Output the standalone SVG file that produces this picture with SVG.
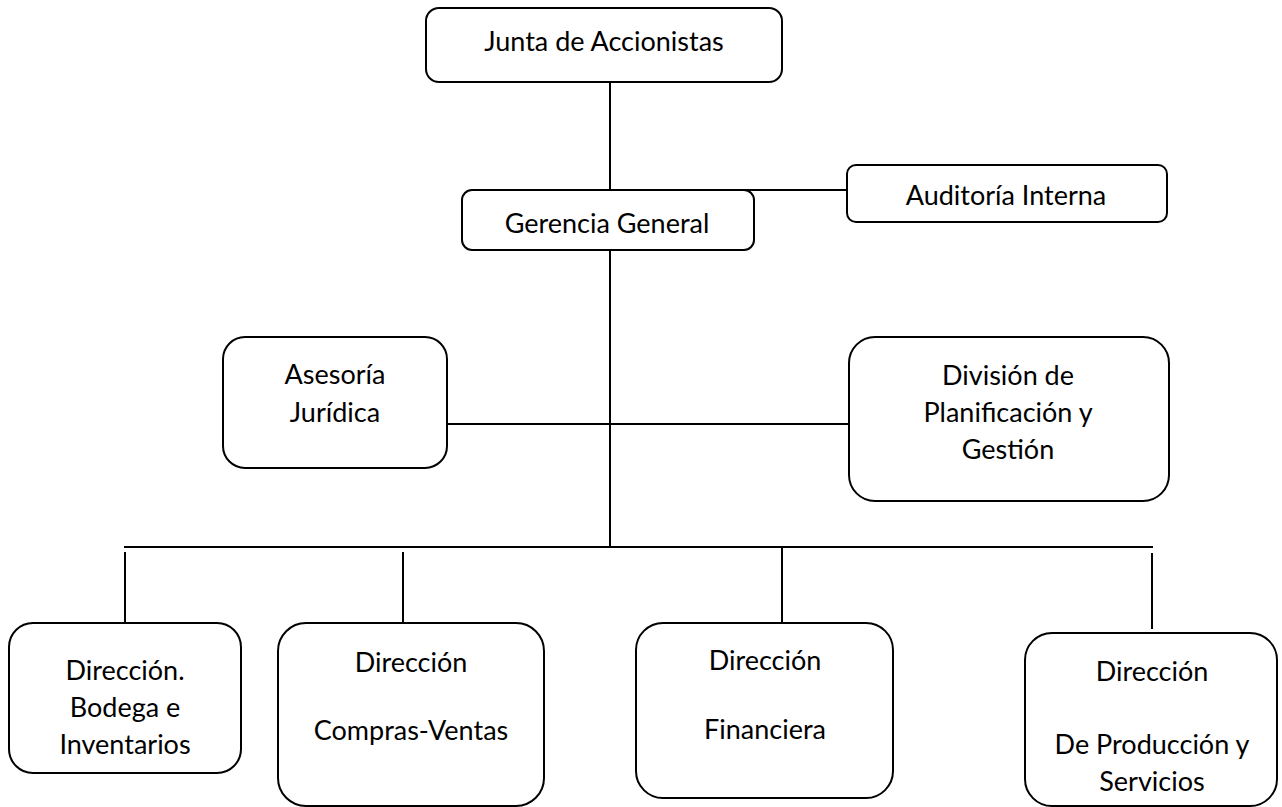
<svg xmlns="http://www.w3.org/2000/svg" width="1282" height="807" viewBox="0 0 1282 807">
<style>
.box{fill:#fff;stroke:#000;stroke-width:2}
.ln{stroke:#000;stroke-width:2;fill:none}
text{font-family:Lato,"Open Sans","Liberation Sans",sans-serif;font-size:27px;fill:#000;text-anchor:middle}
</style>
<rect width="1282" height="807" fill="#fff"/>
<g id="connectors">
<line class="ln" x1="610" y1="82" x2="610" y2="190"/>
<line class="ln" x1="742" y1="190" x2="848" y2="190"/>
<line class="ln" x1="610" y1="250" x2="610" y2="547"/>
<line class="ln" x1="447" y1="424" x2="850" y2="424"/>
<line class="ln" x1="124" y1="547" x2="1153" y2="547"/>
<line class="ln" x1="125" y1="552" x2="125" y2="623"/>
<line class="ln" x1="403" y1="552" x2="403" y2="623"/>
<line class="ln" x1="782" y1="547" x2="782" y2="623"/>
<line class="ln" x1="1152" y1="553" x2="1152" y2="629"/>
</g>
<g id="junta">
<rect class="box" x="426" y="8" width="356" height="74" rx="13"/>
<text x="604" y="51">Junta de Accionistas</text>
</g>
<g id="gerencia">
<rect class="box" x="462" y="190" width="292" height="60" rx="10"/>
<text x="607" y="233">Gerencia General</text>
</g>
<g id="auditoria">
<rect class="box" x="847" y="165" width="320" height="57" rx="9"/>
<text x="1006" y="205">Auditoría Interna</text>
</g>
<g id="asesoria">
<rect class="box" x="223" y="337" width="224" height="131" rx="22"/>
<text x="335" y="384">Asesoría</text>
<text x="335" y="422">Jurídica</text>
</g>
<g id="division">
<rect class="box" x="849" y="337" width="320" height="164" rx="26"/>
<text x="1008" y="385">División de</text>
<text x="1008" y="422">Planificación y</text>
<text x="1008" y="459">Gestión</text>
</g>
<g id="bodega">
<rect class="box" x="9" y="623" width="232" height="150" rx="24"/>
<text x="125" y="680">Dirección.</text>
<text x="125" y="717">Bodega e</text>
<text x="125" y="754">Inventarios</text>
</g>
<g id="compras">
<rect class="box" x="278" y="623" width="266" height="183" rx="28"/>
<text x="411" y="672">Dirección</text>
<text x="411" y="740">Compras-Ventas</text>
</g>
<g id="financiera">
<rect class="box" x="636" y="623" width="257" height="175" rx="27"/>
<text x="765" y="670">Dirección</text>
<text x="765" y="739">Financiera</text>
</g>
<g id="produccion">
<rect class="box" x="1025" y="633" width="252" height="173" rx="27"/>
<text x="1152" y="681">Dirección</text>
<text x="1152" y="754">De Producción y</text>
<text x="1152" y="791">Servicios</text>
</g>
</svg>
